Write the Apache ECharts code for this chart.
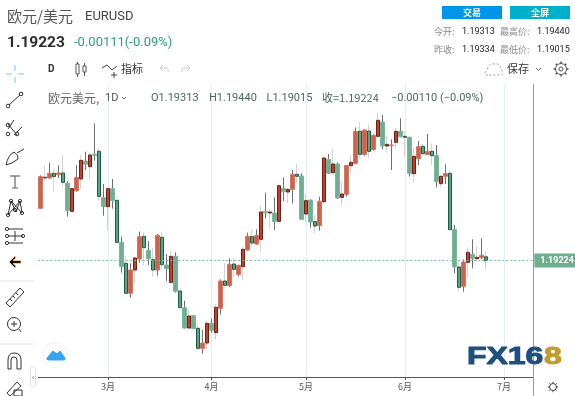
<!DOCTYPE html>
<html><head><meta charset="utf-8">
<style>html,body{margin:0;padding:0;background:#fff}#c{width:575px;height:396px}</style>
<script src="https://cdn.jsdelivr.net/npm/echarts@6/dist/echarts.min.js"></script>
</head><body><div id="c"></div>
<script>
const categories = [
'02-08','02-09','02-10','02-11','02-12','02-15','02-16','02-17','02-18','02-19','02-22','02-23','02-24','02-25','02-26',
'03-01','03-02','03-03','03-04','03-05','03-08','03-09','03-10','03-11','03-12','03-15','03-16','03-17','03-18','03-19','03-22','03-23','03-24','03-25','03-26','03-29','03-30','03-31',
'04-01','04-02','04-05','04-06','04-07','04-08','04-09','04-12','04-13','04-14','04-15','04-16','04-19','04-20','04-21','04-22','04-23','04-26','04-27','04-28','04-29','04-30',
'05-03','05-04','05-05','05-06','05-07','05-10','05-11','05-12','05-13','05-14','05-17','05-18','05-19','05-20','05-21','05-24','05-25','05-26','05-27','05-28','05-31',
'06-01','06-02','06-03','06-04','06-07','06-08','06-09','06-10','06-11','06-14','06-15','06-16','06-17','06-18','06-21','06-22','06-23','06-24','06-25','06-28','06-29','06-30',
'07-01','07-02','07-05','07-06','07-07','07-08','07-09'];
const monthDates = ['03-01','04-01','04-30','06-01','07-01'];
const monthLabels = ['3月','4月','5月','6月','7月'];
const opens = [
1.20476,1.21208,1.21204,1.21316,1.21284,1.21324,1.21076,1.20404,1.20900,1.21180,
1.21612,1.21476,1.21772,1.21844,1.20732,1.20516,1.20948,1.20668,1.19660,1.19156,
1.18436,1.18996,1.19260,1.19804,1.19468,1.19244,1.18996,1.19780,1.19116,1.18700,
1.19324,1.18492,1.18092,1.17604,1.17900,1.17596,1.17116,1.17244,1.17716,1.17492,
1.18076,1.18732,1.18620,1.19140,1.18884,1.19076,1.19476,1.19796,1.19620,1.19732,
1.20404,1.20364,1.20364,1.20164,1.20956,1.20868,1.20932,1.21292,1.21252,1.20340,
1.20676,1.20156,1.20060,1.20636,1.21652,1.21332,1.21540,1.20740,1.20812,1.21500,
1.21556,1.22324,1.21764,1.22332,1.21884,1.22204,1.22548,1.21972,1.21980,1.22060,
1.22324,1.22204,1.22180,1.21308,1.21668,1.21964,1.21764,1.21844,1.21740,1.21068,
1.21244,1.21316,1.19972,1.19068,1.18604,1.19180,1.19372,1.19268,1.19292,1.19313];
const closes = [
1.21236,1.21220,1.21316,1.21236,1.21324,1.21100,1.20420,1.20948,1.21220,1.21628,
1.21532,1.21756,1.21748,1.20764,1.20516,1.20948,1.20660,1.19660,1.19076,1.18436,
1.18996,1.19284,1.19796,1.19532,1.19268,1.18996,1.19828,1.19124,1.19028,1.19324,
1.18484,1.18092,1.17604,1.17892,1.17588,1.17116,1.17244,1.17716,1.17548,1.18100,
1.18732,1.18628,1.19132,1.19012,1.19108,1.19492,1.19804,1.19644,1.19828,1.20388,
1.20372,1.20388,1.20156,1.21020,1.20876,1.20932,1.21292,1.21244,1.20212,1.20660,
1.20148,1.20052,1.20644,1.21684,1.21316,1.21540,1.20724,1.20820,1.21508,1.21580,
1.22324,1.21772,1.22356,1.21844,1.22228,1.22588,1.21972,1.22012,1.21996,1.22324,
1.22196,1.22180,1.21316,1.21724,1.21956,1.21788,1.21844,1.21740,1.21116,1.21244,
1.21308,1.19964,1.19068,1.18580,1.19188,1.19420,1.19276,1.19300,1.19348,1.19224];
const lows = [
1.20468,1.21140,1.21188,1.20884,1.21204,1.20996,1.20276,1.20396,1.20876,1.20948,
1.21396,1.21172,1.21620,1.20660,1.20300,1.19940,1.20468,1.19652,1.18932,1.18428,
1.18332,1.18676,1.19172,1.19116,1.19116,1.18836,1.18860,1.19060,1.18732,1.18692,
1.18452,1.18076,1.17588,1.17588,1.17572,1.17060,1.16988,1.17076,1.17492,1.17332,
1.17924,1.18596,1.18580,1.18836,1.18836,1.18756,1.19460,1.19572,1.19596,1.19436,
1.20236,1.19988,1.19956,1.20148,1.20652,1.20596,1.20596,1.21076,1.20196,1.20156,
1.20012,1.19876,1.19940,1.20580,1.21300,1.21300,1.20700,1.20556,1.20756,1.21316,
1.21540,1.21676,1.21740,1.21676,1.21860,1.22196,1.21892,1.21812,1.21396,1.21916,
1.22180,1.21716,1.21236,1.21092,1.21516,1.21756,1.21756,1.21516,1.20980,1.20980,
1.21060,1.19956,1.18916,1.18476,1.18476,1.18812,1.19036,1.19196,1.19252,1.19015];
const highs = [
1.21268,1.21492,1.21572,1.21412,1.21508,1.21756,1.21132,1.20980,1.21516,1.21756,
1.21836,1.21812,1.22516,1.21908,1.21060,1.20980,1.21180,1.20692,1.19796,1.19332,
1.19156,1.19316,1.19916,1.19900,1.19692,1.19532,1.19860,1.19900,1.19380,1.19476,
1.19420,1.18500,1.18260,1.18036,1.17908,1.17692,1.17556,1.17772,1.17828,1.18172,
1.18772,1.19156,1.19276,1.19276,1.19124,1.19556,1.19892,1.19956,1.19972,1.20532,
1.20852,1.20452,1.20740,1.21036,1.21220,1.20956,1.21396,1.21540,1.21316,1.20812,
1.20684,1.20316,1.20756,1.21716,1.21780,1.21892,1.21580,1.21108,1.21516,1.21756,
1.22420,1.22548,1.22372,1.22492,1.22252,1.22756,1.22716,1.22236,1.22132,1.22396,
1.22636,1.22340,1.22196,1.21940,1.22092,1.22020,1.22260,1.22036,1.21996,1.21276,
1.21532,1.21396,1.20076,1.19252,1.19252,1.19540,1.19732,1.19572,1.19756,1.19440];
const lastPrice = 1.19224;

const FONT = 'Roboto, "Noto Sans CJK SC", sans-serif';
const CN = '"Noto Sans CJK SC", Roboto, sans-serif';

// small M/L/Q/Z path shape for the page's icons
echarts.graphic.registerShape('iconPath', echarts.graphic.extendShape({
  shape:{d:''},
  buildPath(ctx,shape){
    const t=shape.d.trim().split(/\s+/);let i=0;
    while(i<t.length){
      const m=t[i];
      if(/^M/.test(m)){ctx.moveTo(+m.slice(1),+t[i+1]);i+=2;}
      else if(/^L/.test(m)){ctx.lineTo(+m.slice(1),+t[i+1]);i+=2;}
      else if(/^Q/.test(m)){ctx.quadraticCurveTo(+m.slice(1),+t[i+1],+t[i+2],+t[i+3]);i+=4;}
      else if(/^Z/.test(m)){ctx.closePath();i+=1;}
      else i+=1;
    }
  }
}));

const EMPTY=['-','-','-','-'];
const wicks = p => opens.map((o,i)=> i%2===p ? [o,closes[i],lows[i],highs[i]] : EMPTY.slice());
const bodies = p => opens.map((o,i)=> i%2===p ? [o,closes[i],Math.min(o,closes[i]),Math.max(o,closes[i])] : EMPTY.slice());
const flat = c => ({color:c,color0:c,borderColor:c,borderColor0:c,borderColorDoji:c});

// page chrome helpers
const g=[];
const txt=(x,y,t,size,fill,o={})=>g.push({type:'text',x,y,silent:true,z:20,style:Object.assign({text:t,font:`${o.weight||'normal'} ${size}px ${o.family||FONT}`,fill,textVerticalAlign:'middle',textAlign:o.align||'left'},o.style||{})});
const ln=(x1,y1,x2,y2,c,w=1,extra={})=>g.push({type:'line',silent:true,z:20,shape:{x1,y1,x2,y2},style:Object.assign({stroke:c,lineWidth:w},extra)});
const circ=(cx,cy,r,c,w=1,fill='none')=>g.push({type:'circle',silent:true,z:20,shape:{cx,cy,r},style:{stroke:c,lineWidth:w,fill}});
const rct=(x,y,w,h,fill,stroke,r=0)=>g.push({type:'rect',silent:true,z:19,shape:{x,y,width:w,height:h,r},style:{fill,stroke:stroke||'none'}});
const pth=(d,c,w=1,fill='none',extra={})=>g.push({type:'iconPath',silent:true,z:20,shape:{d},style:Object.assign({stroke:c,lineWidth:w,fill},extra)});

// header
txt(7,16,'欧元/美元',15,'#555',{family:CN});
txt(85,16.5,'EURUSD',13,'#444');
txt(7,43,'1.19223',15.5,'#2b2b2b',{weight:'bold'});
txt(74,43,'-0.00111(-0.09%)',13,'#2f9e7c');
// buttons
rct(442,6,60,13,'#0095e8'); txt(472,12.5,'交易',9,'#fff',{family:CN,align:'center',weight:'bold'});
rct(510,6,60,13,'#00afc9'); txt(540,12.5,'全屏',9,'#fff',{family:CN,align:'center',weight:'bold'});
// quote block
txt(434,32,'今开:',9,'#888',{family:CN}); txt(462,32,'1.19313',9,'#222');
txt(500,32,'最高价:',9,'#888',{family:CN}); txt(537,32,'1.19440',9,'#222');
txt(434,50,'昨收:',9,'#888',{family:CN}); txt(462,50,'1.19334',9,'#222');
txt(500,50,'最低价:',9,'#888',{family:CN}); txt(537,50,'1.19015',9,'#222');
// toolbar
txt(48,69,'D',10,'#333',{weight:'bold'});
rct(76,64,3,10,'#fff','#555'); ln(77.5,62,77.5,64,'#555'); ln(77.5,74,77.5,77,'#555');
rct(83,66,3,6,'#fff','#555'); ln(84.5,63,84.5,66,'#555'); ln(84.5,72,84.5,76,'#555');
pth('M102 68 L107 65 L112 70 L117 66','#444',1);
ln(114,72,114,78,'#444'); ln(111,75,117,75,'#444');
txt(121,69,'指标',11,'#333',{family:CN});
pth('M160 68 L163 65 M160 68 L163 71 M160 68 L167 68 Q169 69 168 72','#ccc',1);
pth('M190 68 L187 65 M190 68 L187 71 M190 68 L183 68 Q181 69 182 72','#ccc',1);
pth('M488 75 Q483 75 487 70 Q489 63 495 64 Q500 63 501 69 Q505 75 500 75 Z','#999',1,'none',{lineDash:[2,2]});
txt(507,69,'保存',11,'#333',{family:CN});
pth('M536 68 L538.5 70.5 L541 68','#666',1);
circ(561,69,2,'#555'); circ(561,69,5.5,'#555');
[0,45,90,135,180,225,270,315].forEach(a=>{const r=a*Math.PI/180;ln(561+5.5*Math.cos(r),69+5.5*Math.sin(r),561+7.5*Math.cos(r),69+7.5*Math.sin(r),'#555',1.5);});
// legend row
txt(48,98,'欧元美元,',12,'#666',{family:CN});
txt(105,98,'1D',11,'#555');
pth('M122 97 L124 99 L126 97','#666',1);
txt(151,98,'O1.19313',11,'#4a6a5a');
txt(209,98,'H1.19440',11,'#4a6a5a');
txt(266.5,98,'L1.19015',11,'#4a6a5a');
txt(322,98,'收=1.19224',11,'#4a6a5a',{family:CN});
txt(391,98,'−0.00110 (−0.09%)',11,'#4a6a5a');
// left tools
const blue='#a8d7f5', dk='#333';
ln(6,74,12,74,blue,1.5); ln(18,74,24,74,blue,1.5); ln(15,65,15,71,blue,1.5); ln(15,77,15,83,blue,1.5);
ln(9,105,20,95,dk); circ(8,106,1.8,dk); circ(21,94,1.8,dk);
ln(8,129,14,120,dk);ln(14,135,22,127,dk);ln(8,124,17,135,dk); circ(8,134,1.8,dk); circ(17,134,1.8,dk); circ(8,125,1.8,dk);
pth('M6 165 Q8 155 14 152 Q19 155 18 159 Q12 164 6 165 Z M17 153 L24 149',dk,1);
ln(10,176,20,176,'#666',1.2); ln(15,176,15,188,'#666',1.2); ln(12,188,18,188,'#666',1);
pth('M8 215 L11 201 L16 212 L20 201 L22 213 M8 215 L20 201 M11 201 L22 213',dk,1);
circ(8,215,1.6,dk);circ(11,201,1.6,dk);circ(20,201,1.6,dk);circ(22,213,1.6,dk);circ(15,210,1.6,dk);
ln(8,229,23,229,dk);ln(8,236,23,236,dk);ln(8,243,23,243,dk);ln(15,231,15,241,dk);
circ(7,229,1.6,dk);circ(7,236,1.6,dk);circ(7,243,1.6,dk);circ(23,236,1.6,dk);
pth('M9 262 L15 256 L16 258 L13 260.5 L21 260.5 L21 263.5 L13 263.5 L16 266 L15 268 Z','#f3c895',1,'#111');
pth('M6 303 L10 307 L24 292 L20 288 Z M10 299 L12 301 M13 296 L15 298 M16 293 L18 295',dk,1);
circ(14,324,6.5,dk); ln(11,324,17,324,dk); ln(14,321,14,327,dk); ln(19,329,21,332,dk);
ln(0,281,34,281,'#e3e6ee'); ln(0,344,34,344,'#e3e6ee');
pth('M8 369 L8 360 Q8 353 14 353 Q21 353 21 360 L21 369 L17 369 L17 360 Q17 357 14 357 Q11 357 11 360 L11 369 Z',dk,1);
pth('M7 393 L17 382 L21 386 L10 396 Z',dk,1);
rct(14,390,8,6,'#fff','#333');
// cloud button
circ(55,355,12.5,'#eef1f4',1,'#fff');
pth('M47 358 L53 351 L57 354 L60 351 L65 358 Q66 360 63 360 L49 360 Q46 360 47 358 Z','#38a3f0',1,'#38a3f0');
// collapse handle
rct(30.5,367,5,20,'#fff','#dfe3ea',2);
pth('M34 376 L32.5 377.5 L34 379','#99a',1);
// price scale and logo
ln(533.5,84,533.5,396,'#9a9a9a',1);
circ(553,387,3.5,'#444',1);
[0,45,90,135,180,225,270,315].forEach(a=>{const r=a*Math.PI/180;ln(553+3.5*Math.cos(r),387+3.5*Math.sin(r),553+5.2*Math.cos(r),387+5.2*Math.sin(r),'#444',1);});
g.push({type:'text',x:467,y:357.5,scaleX:1.33,silent:true,z:21,style:{text:'FX16',font:'bold 24px "Liberation Sans"',fill:'#1d4f7f',stroke:'#1d4f7f',lineWidth:1,textVerticalAlign:'middle'}});
g.push({type:'text',x:544,y:357.5,scaleX:1.33,silent:true,z:21,style:{text:'8',font:'bold 24px "Liberation Sans"',fill:'#c39a2e',stroke:'#c39a2e',lineWidth:1,textVerticalAlign:'middle'}});

const option={
  animation:false,
  backgroundColor:'#fff',
  grid:{left:38.35,right:41.65,top:84,bottom:19,containLabel:false},
  xAxis:{type:'category',data:categories,boundaryGap:true,
    axisLine:{show:true,lineStyle:{color:'#555',width:1}},
    axisTick:{show:true,alignWithLabel:true,length:3,lineStyle:{color:'#555'},interval:(i,v)=>monthDates.includes(v)},
    axisLabel:{show:true,interval:(i,v)=>monthDates.includes(v),formatter:v=>monthLabels[monthDates.indexOf(v)]||'',fontSize:9,color:'#555',margin:5,fontFamily:CN},
    splitLine:{show:false}},
  yAxis:{type:'value',min:1.16428,max:1.2346,show:false,splitLine:{show:false}},
  graphic:g,
  series:[
    {type:'candlestick',name:'wick-pale',z:2,barWidth:1,data:wicks(1),silent:true,itemStyle:flat('#d2d2d2'),
      markLine:{silent:true,z:1,symbol:'none',animation:false,label:{show:false},
        lineStyle:{color:'#e2edf5',width:1,type:'solid'},
        data:monthDates.map(d=>({xAxis:d}))}},
    {type:'candlestick',name:'wick-dark',z:2,barWidth:1,data:wicks(0),silent:true,itemStyle:flat('#6f6f6f')},
    {type:'candlestick',name:'body-light',z:3,barWidth:4,data:bodies(0),silent:true,
      itemStyle:{color:'#d65f49',color0:'#6fae90',borderColor:'#cf7a68',borderColor0:'#7db79b'}},
    {type:'candlestick',name:'欧元美元',z:3,barWidth:4,data:bodies(1),silent:true,
      itemStyle:{color:'#c43f2c',color0:'#5ba583',borderColor:'#6e2117',borderColor0:'#1f5c45'},
      markLine:{silent:true,z:5,symbol:'none',animation:false,precision:5,
        lineStyle:{color:'#7fb89c',width:1,type:[2,2]},
        label:{show:true,position:'end',distance:1,formatter:lastPrice.toFixed(5),color:'#fff',backgroundColor:'#6fae8f',fontSize:9,fontWeight:'bold',fontFamily:FONT,padding:[3,8,2,6]},
        data:[{yAxis:lastPrice}]}}
  ]
};
echarts.init(document.getElementById('c'),null,{renderer:'canvas'}).setOption(option);
</script></body></html>
